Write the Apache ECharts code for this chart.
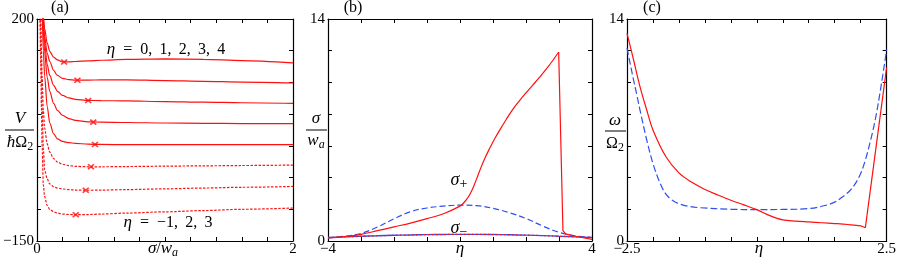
<!DOCTYPE html>
<html><head><meta charset="utf-8">
<script src="https://cdn.jsdelivr.net/npm/echarts@6/dist/echarts.min.js"></script>
<style>html,body{margin:0;padding:0;background:#fff}#c{width:899px;height:257px}</style>
</head><body><div id="c"></div>
<script>
// ---------- Panel (a): V/ħΩ2 vs σ/wa ----------
const aX = [0.02,0.03,0.035,0.04,0.05,0.06,0.08,0.1,0.13,0.16,0.2,0.25,0.3,0.4,0.5,0.7,1.0,1.3,1.6,2.0];
const aEta0 = [420,330,290,240,205,185,162,149,140,135.5,132.3,132.4,133,134,135,136.3,137,136.5,134.5,130.7];
const aEta1 = [420,320,280,235,198,172,146,133,119,111,106.5,104.3,103.6,103.7,104,104,103,101.8,100.6,99.3];
const aEta2 = [420,315,270,225,190,162,128,111,95.5,86,79.5,75.5,73.3,71.6,71.4,70.8,69.8,68.8,68,67];
const aEta3 = [410,310,265,220,180,148,108,86,67,56,48,43,40.3,37.8,37.4,36.8,36,35.5,35.2,35];
const aEta4 = [400,300,255,210,150,110,62,36,19,11,7,5,4,2.6,2.2,2,1.8,1.8,1.9,2];
const aEtaM1 = [300,200,150,110,55,28,3,-10,-20,-25.5,-29,-31.3,-32.3,-33,-33,-32.6,-32,-31.5,-31,-30.3];
const aEtaM2 = [300,170,110,60,-5,-38,-52,-60,-64.5,-66.5,-68,-69,-69.7,-70,-69.8,-69,-67.8,-66.5,-65.3,-64];
const aEtaM3 = [280,130,60,0,-62,-80,-94,-100,-104,-106,-107.5,-108.2,-108.5,-108.3,-107.5,-106,-104,-102,-100,-98];
const aMinX = [0.212,0.316,0.40,0.44,0.453,0.422,0.381,0.303];
const aMinY = [132.3,103.5,71.5,37.4,2.2,-33,-70,-108.5];

// ---------- Panel (b): σ/wa vs η ----------
const bEtaPlus = [-4,-3.5,-3,-2.5,-2,-1.5,-1,-0.5,0,0.1,0.2,0.3,0.4,0.5,0.6,0.75,0.9,1.05,1.2,1.4,1.6,1.8,2.0,2.2,2.4,2.6,2.8,2.99];
const bPlus = [0.2,0.28,0.42,0.65,0.89,1.13,1.41,1.72,2.2,2.38,2.62,2.95,3.38,3.9,4.45,5.2,5.85,6.45,6.98,7.66,8.3,8.84,9.34,9.82,10.3,10.8,11.35,11.92];
const bEtaDrop = [2.99,3.12,3.2,3.5,4];
const bDrop = [11.92,0.65,0.45,0.3,0.1];
const bEta = [-4,-3.5,-3,-2.5,-2,-1.5,-1,-0.5,0,0.5,1,1.5,2,2.5,3,3.5,4];
const bDash = [0.2,0.3,0.48,0.88,1.4,1.85,2.08,2.2,2.26,2.23,2.06,1.78,1.42,0.95,0.55,0.32,0.22];
const bMinus = [0.22,0.26,0.3,0.33,0.36,0.38,0.4,0.41,0.42,0.42,0.41,0.39,0.37,0.34,0.3,0.26,0.22];

// ---------- Panel (c): ω/Ω2 vs η ----------
const cEtaR = [-2.5,-2.374,-2.25,-2.12,-2.0,-1.75,-1.5,-1.25,-1.0,-0.75,-0.5,-0.25,0,0.25,0.5,0.75,1.0,1.25,1.5,1.75,2.0,2.09];
const cRed = [13.1,11.43,9.74,8.26,7.0,5.31,4.3,3.7,3.25,2.9,2.57,2.28,1.98,1.6,1.33,1.25,1.2,1.15,1.1,1.04,0.95,0.83];
const cEtaRJump = [2.09,2.5];
const cRedJump = [0.83,10.95];
const cEtaB = [-2.5,-2.44,-2.374,-2.31,-2.25,-2.12,-2.0,-1.87,-1.75,-1.62,-1.5,-1.3,-1.1,-0.5,0,0.5,1.02,1.34,1.5,1.65,1.8,1.9,2.0,2.09,2.18,2.28,2.38,2.5];
const cBlue = [12.17,11.2,10.16,9.2,8.26,6.37,4.89,3.7,2.95,2.55,2.35,2.18,2.1,2.0,1.98,1.99,2.05,2.26,2.45,2.78,3.2,3.63,4.25,5.1,6.2,7.63,9.5,12.06];

const RED = '#ff1010', BLUE = '#2f4ff2';
const SERIF = 'Liberation Serif';
const zip = (xs, ys) => xs.map((x, i) => [x, ys[i]]);
const fmtNum = v => String(v).replace('-', '\u2212');

function endFormatter(lo, hi) {
  return v => Math.abs(v - lo) < 1e-9 ? fmtNum(lo) : (Math.abs(v - hi) < 1e-9 ? fmtNum(hi) : '');
}

const tick = {show: true, inside: true, length: 4, lineStyle: {color: '#000', width: 1}};
const line = {show: true, onZero: false, lineStyle: {color: '#000', width: 1.2}};
const lab = {fontFamily: SERIF, fontSize: 15, color: '#000'};

function xAxes(gi, min, max, interval) {
  return [
    {type: 'value', gridIndex: gi, min, max, interval, position: 'bottom', axisLine: line, axisTick: tick, splitLine: {show: false},
     axisLabel: Object.assign({margin: 1, formatter: endFormatter(min, max), showMinLabel: true, showMaxLabel: true}, lab)},
    {type: 'value', gridIndex: gi, min, max, interval, position: 'top', axisLine: line, axisTick: tick, splitLine: {show: false}, axisLabel: {show: false}}
  ];
}
function yAxes(gi, min, max, interval) {
  return [
    {type: 'value', gridIndex: gi, min, max, interval, position: 'left', axisLine: line, axisTick: tick, splitLine: {show: false},
     axisLabel: Object.assign({margin: 3, formatter: endFormatter(min, max), showMinLabel: true, showMaxLabel: true}, lab)},
    {type: 'value', gridIndex: gi, min, max, interval, position: 'right', axisLine: line, axisTick: tick, splitLine: {show: false}, axisLabel: {show: false}}
  ];
}

function ln(gi, data, color, type, width, smooth, mono) {
  const s = {type: 'line', xAxisIndex: gi * 2, yAxisIndex: gi * 2, data, showSymbol: false, symbol: 'none',
    smooth: smooth === undefined ? 0.3 : smooth, clip: true, animation: false,
    lineStyle: {color, width: width || 1.2, type: type || 'solid'}, z: 3};
  if (mono) s.smoothMonotone = 'x';
  return s;
}

const DOT = [2.5, 1.5];
const series = [
  ln(0, zip(aX, aEta0), RED, 'solid', 1.2, 0.3, true), ln(0, zip(aX, aEta1), RED, 'solid', 1.2, 0.3, true),
  ln(0, zip(aX, aEta2), RED, 'solid', 1.2, 0.3, true), ln(0, zip(aX, aEta3), RED, 'solid', 1.2, 0.3, true),
  ln(0, zip(aX, aEta4), RED, 'solid', 1.2, 0.3, true),
  ln(0, zip(aX, aEtaM1), RED, DOT, 1.2, 0.3, true), ln(0, zip(aX, aEtaM2), RED, DOT, 1.2, 0.3, true),
  ln(0, zip(aX, aEtaM3), RED, DOT, 1.2, 0.3, true),
  {type: 'scatter', xAxisIndex: 0, yAxisIndex: 0, data: zip(aMinX, aMinY), symbol: 'path://M0,0L10,10M10,0L0,10',
   symbolSize: [6, 5], itemStyle: {color: 'rgba(0,0,0,0)', borderColor: RED, borderWidth: 1.6}, animation: false, z: 5},

  ln(1, zip(bEta, bDash), BLUE, [6, 3], 1.2, 0.4),
  ln(1, zip(bEta, bMinus), BLUE, 'solid', 1.4, 0.4),
  ln(1, zip(bEta, bMinus), RED, [1.5, 2.5], 1.2, 0.4),
  ln(1, zip(bEtaPlus, bPlus), RED, 'solid', 1.2, 0.4),
  ln(1, zip(bEtaDrop, bDrop), RED, 'solid', 1.2, false),

  ln(2, zip(cEtaB, cBlue), BLUE, [7, 3], 1.2, 0.35),
  ln(2, zip(cEtaR, cRed), RED, 'solid', 1.2, 0.35),
  ln(2, zip(cEtaRJump, cRedJump), RED, 'solid', 1.2, false)
];

function tok(style, size, sub) {
  const o = {fontFamily: SERIF, fontStyle: style, fontSize: size, fill: '#000'};
  if (sub) o.padding = [sub, 0, 0, 0];
  return o;
}
const richAll = {
  i: tok('italic', 17), r: tok('normal', 16), big: tok('italic', 18),
  si: tok('italic', 12, 8), sr: tok('normal', 12, 8), sp: tok('normal', 14, 9)
};

function T(x, y, text, size) {
  return {type: 'text', x, y, z: 10, style: {text, align: 'center', verticalAlign: 'middle',
    fontFamily: SERIF, fontSize: size || 16, fill: '#000', rich: richAll}};
}
function L(x1, x2, y) {
  return {type: 'line', z: 10, shape: {x1, y1: y, x2, y2: y}, style: {stroke: '#000', lineWidth: 1}};
}
const SP = '\u2002';
const graphic = [
  T(60, 8, '(a)', 16), T(353, 8, '(b)', 16), T(652, 8, '(c)', 16),
  T(166, 50, '{i|η}{r|' + SP + '=' + SP + '0,\u2009 1,\u2009 2,\u2009 3,\u2009 4}'),
  T(168, 223, '{i|η}{r|' + SP + '=' + SP + '\u22121,\u2009 2,\u2009 3}'),
  T(163, 249, '{i|σ}{r|/}{i|w}{si|a}'),
  T(20, 119, '{i|V}'), L(5, 34, 130), T(20, 143, '{i|ħ}{r|Ω}{sr|2}'),
  T(316, 119, '{i|σ}'), L(306, 327, 130), T(316, 141, '{i|w}{si|a}'),
  T(615, 121, '{i|ω}'), L(605, 626, 131), T(615, 144, '{r|Ω}{sr|2}'),
  T(460, 249, '{i|η}'), T(759, 249, '{i|η}'),
  T(459, 180, '{big|σ}{sp|+}'), T(459, 228, '{big|σ}{sp|\u2212}')
];

const chart = echarts.init(document.getElementById('c'), null, {renderer: 'canvas'});
chart.setOption({
  animation: false,
  backgroundColor: '#fff',
  grid: [
    {left: 36, top: 19, width: 257, height: 222},
    {left: 328, top: 19, width: 264, height: 222},
    {left: 627, top: 19, width: 265, height: 222}
  ],
  xAxis: [].concat(xAxes(0, 0, 2, 0.2), xAxes(1, -4, 4, 1), xAxes(2, -2.5, 2.5, 0.5)),
  yAxis: [].concat(yAxes(0, -150, 200, 50), yAxes(1, 0, 14, 2), yAxes(2, 0, 14, 2)),
  series,
  graphic
});
</script></body></html>
